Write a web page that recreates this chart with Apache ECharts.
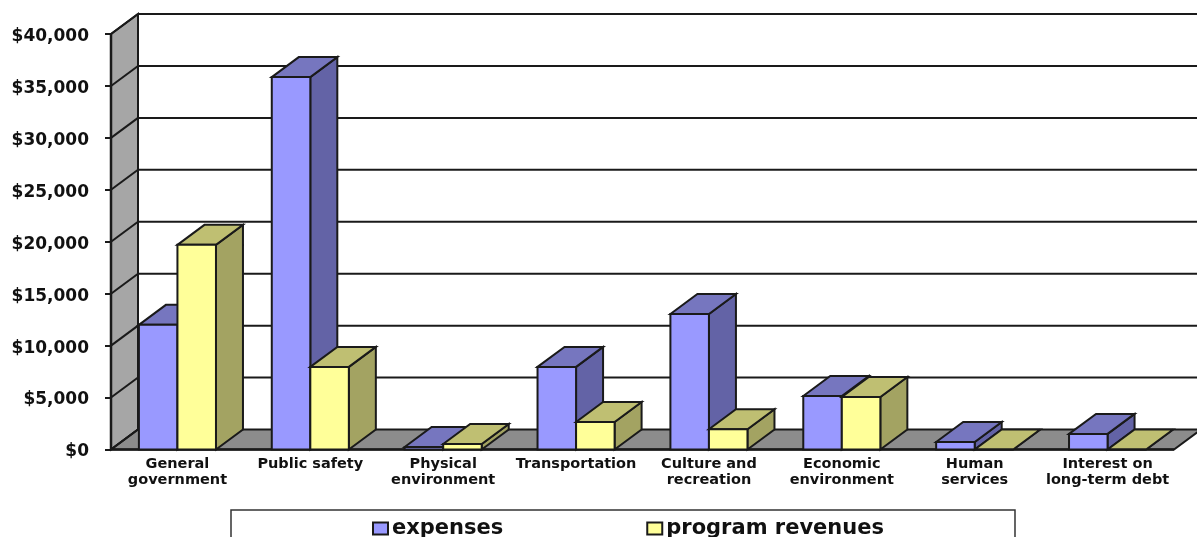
<!DOCTYPE html>
<html><head><meta charset="utf-8">
<style>html,body{margin:0;padding:0;background:#fff;overflow:hidden}#c{width:1197px;height:537px}</style>
<script src="https://cdn.jsdelivr.net/npm/echarts@6/dist/echarts.min.js"></script>
</head><body><div id="c"></div>
<script>
const categories = ["General\ngovernment","Public safety","Physical\nenvironment","Transportation","Culture and\nrecreation","Economic\nenvironment","Human\nservices","Interest on\nlong-term debt"];
const expenses = [12000,35850,240,7950,13050,5150,720,1500];
const programRevenues = [19700,7950,530,2650,1950,5050,0,0];
const yTicks = [0,5000,10000,15000,20000,25000,30000,35000,40000];

const DX = 27, DY = -20, LINE = '#1a1a1a', BAR_RATIO = 0.29;
const FONT = '"DejaVu Sans"';
const chart = echarts.init(document.getElementById('c'), null, {renderer:'canvas'});
const poly = (pts, fill, lw) => ({type:'polygon', shape:{points:pts}, style:{fill, stroke:LINE, lineWidth:lw||2, lineJoin:'miter'}});
const line = (a, b, lw) => ({type:'line', shape:{x1:a[0],y1:a[1],x2:b[0],y2:b[1]}, style:{stroke:LINE, lineWidth:lw||2, fill:null}});

function backdrop(params, api){
  const cs = params.coordSys, L = cs.x, R = cs.x + cs.width;
  const y0 = api.coord([0, yTicks[0]])[1], yT = api.coord([0, yTicks[yTicks.length-1]])[1];
  const ch = [];
  ch.push({type:'rect', shape:{x:L+DX,y:yT+DY,width:cs.width+40,height:y0-yT}, style:{fill:'#fff'}});
  ch.push(poly([[L,yT],[L+DX,yT+DY],[L+DX,y0+DY],[L,y0]], '#a6a6a6'));
  ch.push(poly([[L,y0],[L+DX,y0+DY],[R+DX,y0+DY],[R,y0]], '#8c8c8c'));
  yTicks.forEach(v => {
    const y = api.coord([0,v])[1];
    if (v > 0) ch.push(line([L+DX,y+DY],[1197,y+DY]));
    ch.push(line([L,y],[L+DX,y+DY]));
  });
  ch.push(line([L+DX,yT+DY],[L+DX,y0+DY]));
  ch.push(line([L,y0],[R,y0],2.5));
  ch.push(line([L,yT],[L,y0],2.5));
  return {type:'group', children:ch};
}
function bar(side, front, top, dark){
  return function(params, api){
    const c = api.coord([api.value(0), api.value(1)]);
    const b = api.coord([api.value(0), 0]);
    const w = api.size([1,0])[0] * BAR_RATIO;
    const x0 = side < 0 ? c[0]-w : c[0], x1 = x0 + w, yt = c[1], yb = b[1];
    return {type:'group', children:[
      poly([[x1,yb],[x1+DX,yb+DY],[x1+DX,yt+DY],[x1,yt]], dark),
      poly([[x0,yt],[x0+DX,yt+DY],[x1+DX,yt+DY],[x1,yt]], top),
      poly([[x0,yb],[x1,yb],[x1,yt],[x0,yt]], front)
    ]};
  };
}
chart.setOption({
  animation:false,
  backgroundColor:'#fff',
  grid:{left:111,right:23,top:34,height:415.5,containLabel:false},
  legend:{
    data:['expenses','program revenues'],
    left:231, top:510, orient:'horizontal',
    padding:[8,131,12,141], itemGap:143,
    backgroundColor:'#fff', borderColor:'#333', borderWidth:1.5,
    icon:'rect', itemWidth:15, itemHeight:12,
    textStyle:{fontFamily:FONT,fontWeight:'bold',fontSize:21,color:'#111',padding:[0,0,0,-1]}
  },
  xAxis:{type:'category',data:categories,
    axisLine:{show:false},axisTick:{show:false},
    axisLabel:{interval:0,fontFamily:FONT,fontWeight:'bold',fontSize:14.5,color:'#111',lineHeight:16,margin:7}},
  yAxis:{type:'value',min:yTicks[0],max:yTicks[yTicks.length-1],interval:yTicks[1]-yTicks[0],
    splitLine:{show:false},
    axisLine:{show:true,lineStyle:{color:LINE,width:2}},
    axisTick:{show:true,length:6,lineStyle:{color:LINE,width:2}},
    axisLabel:{margin:22,fontFamily:FONT,fontWeight:'bold',fontSize:17,color:'#111',verticalAlign:'top',lineHeight:5,
      formatter:v=>'$'+v.toLocaleString('en-US')}},
  series:[
    {type:'custom',name:'wall',silent:true,clip:false,data:[[0,0]],encode:{x:0,y:1},renderItem:backdrop,z:1},
    {type:'custom',name:'expenses',clip:false,z:2,itemStyle:{color:'#9999ff',borderColor:LINE,borderWidth:1.5},
      data:expenses.map((v,i)=>[i,v]),encode:{x:0,y:1},renderItem:bar(-1,'#9999ff','#7676bf','#6363a6')},
    {type:'custom',name:'program revenues',clip:false,z:3,itemStyle:{color:'#ffff99',borderColor:LINE,borderWidth:1.5},
      data:programRevenues.map((v,i)=>[i,v]),encode:{x:0,y:1},renderItem:bar(1,'#ffff99','#bfbf72','#a3a362')}
  ]
});
</script></body></html>
